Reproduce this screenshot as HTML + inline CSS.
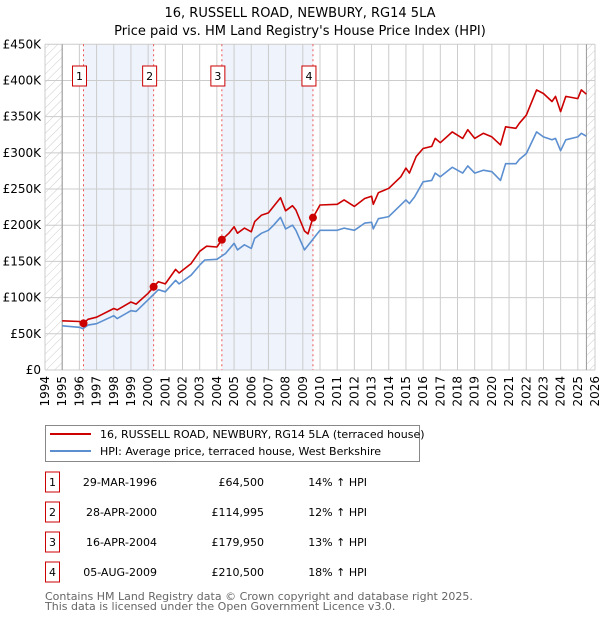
<!DOCTYPE html>
<html><head><meta charset="utf-8"><style>
body{margin:0;background:#fff;font-family:"Liberation Sans","DejaVu Sans",sans-serif}
svg{display:block}
</style></head><body>
<svg id="chart" width="600" height="620" xmlns="http://www.w3.org/2000/svg" font-family="DejaVu Sans, Liberation Sans, sans-serif">
<defs><pattern id="hatch" width="6" height="6" patternUnits="userSpaceOnUse" patternTransform="rotate(45)"><line x1="0" y1="0" x2="0" y2="6" stroke="#ccc" stroke-width="1"/></pattern></defs>
<text x="300" y="17" text-anchor="middle" font-size="13">16, RUSSELL ROAD, NEWBURY, RG14 5LA</text>
<text x="300" y="35" text-anchor="middle" font-size="13">Price paid vs. HM Land Registry's House Price Index (HPI)</text>
<g id="plot"></g>
<g>
<rect x="45.5" y="425.5" width="374" height="36" fill="#fff" stroke="#888"/>
<line x1="50" y1="434" x2="91" y2="434" stroke="#cc0000" stroke-width="2"/>
<text x="100" y="438" font-size="11">16, RUSSELL ROAD, NEWBURY, RG14 5LA (terraced house)</text>
<line x1="50" y1="451" x2="91" y2="451" stroke="#5b8fd0" stroke-width="2"/>
<text x="100" y="455" font-size="11">HPI: Average price, terraced house, West Berkshire</text>
</g>
<g id="table" font-size="11"></g>
<text x="45" y="600" font-size="11" fill="#666">Contains HM Land Registry data © Crown copyright and database right 2025.</text>
<text x="45" y="610" font-size="11" fill="#666">This data is licensed under the Open Government Licence v3.0.</text>
</svg>
<script>
const hpiYears=[1995,1996,1996.2,1996.5,1997,1998,1998.2,1999,1999.3,2000,2000.6,2001,2001.6,2001.8,2002.5,2003,2003.3,2004,2004.5,2005,2005.2,2005.6,2006,2006.2,2006.6,2007,2007.3,2007.7,2008,2008.4,2008.6,2009.1,2010,2011,2011.4,2012,2012.6,2013,2013.1,2013.4,2014,2015,2015.2,2015.5,2016,2016.5,2016.7,2017,2017.7,2018.3,2018.6,2019,2019.5,2020,2020.5,2020.8,2021.4,2021.6,2022,2022.6,2023,2023.5,2023.7,2024,2024.3,2025,2025.2,2025.5];
const hpiValues=[61,59,57,62,64,75,71,82,81,97,111,108,124,119,131,145,152,153,161,175,166,173,168,182,189,193,200,211,195,200,193,166,193,193,196,193,203,204,195,209,212,235,230,239,260,262,272,267,280,272,282,272,276,274,262,285,285,291,299,329,322,318,320,303,318,322,327,323];
const priceYears=[1995,1996,1996.24,1996.5,1997,1998,1998.2,1999,1999.3,2000,2000.32,2000.6,2001,2001.6,2001.8,2002.5,2003,2003.4,2004,2004.29,2004.7,2005,2005.2,2005.6,2006,2006.2,2006.6,2007,2007.3,2007.7,2008,2008.4,2008.6,2009.1,2009.3,2009.59,2010,2011,2011.4,2012,2012.6,2013,2013.1,2013.4,2014,2014.7,2015,2015.2,2015.6,2016,2016.5,2016.7,2017,2017.7,2018.3,2018.6,2019,2019.5,2020,2020.5,2020.8,2021.4,2021.6,2022,2022.6,2023,2023.5,2023.7,2024,2024.3,2025,2025.2,2025.5];
const priceValues=[68,67,64.5,70,73,85,83,94,91,106,115,122,119,139,134,147,164,171,170,180,189,198,189,196,191,205,214,217,226,238,220,227,221,192,188,210.5,228,229,235,226,237,240,229,245,251,267,279,272,295,306,309,320,314,329,320,332,320,327,322,311,336,334,341,352,387,382,371,378,357,378,375,387,381];
const saleYears=[1996.24,2000.32,2004.29,2009.59];
const saleValues=[64.5,114.995,179.95,210.5];
const saleDates=["29-MAR-1996","28-APR-2000","16-APR-2004","05-AUG-2009"];
const salePrices=["£64,500","£114,995","£179,950","£210,500"];
const saleHpi=["14% ↑ HPI","12% ↑ HPI","13% ↑ HPI","18% ↑ HPI"];
const yTicks=[0,50,100,150,200,250,300,350,400,450];
const yTickLabels=["£0","£50K","£100K","£150K","£200K","£250K","£300K","£350K","£400K","£450K"];
const xTicks=[1994,1995,1996,1997,1998,1999,2000,2001,2002,2003,2004,2005,2006,2007,2008,2009,2010,2011,2012,2013,2014,2015,2016,2017,2018,2019,2020,2021,2022,2023,2024,2025,2026];

const NS="http://www.w3.org/2000/svg";
const X0=45,X1=595,Y0=370,Y1=44.3;
const xs=y=>X0+(y-1994)/(2026-1994)*(X1-X0);
const ys=v=>Y0-(v/450)*(Y0-Y1);
const plot=document.getElementById('plot');
function mk(tag,attrs,parent){const e=document.createElementNS(NS,tag);for(const k in attrs)e.setAttribute(k,attrs[k]);(parent||plot).appendChild(e);return e;}

// shaded regions
for(let i=0;i<saleYears.length;i+=2){
  const r=mk('rect',{x:xs(saleYears[i]),y:Y1,width:xs(saleYears[i+1])-xs(saleYears[i]),height:Y0-Y1,fill:'#eef3fc'});
  
  
}
// hatch
const h1=mk('rect',{x:X0,y:Y1,width:xs(1995)-X0,height:Y0-Y1,fill:'url(#hatch)'});


const h2=mk('rect',{x:xs(2025.5),y:Y1,width:X1-xs(2025.5),height:Y0-Y1,fill:'url(#hatch)'});


// grid
yTicks.forEach((t,i)=>{
  const g=mk('line',{x1:X0,x2:X1,y1:ys(t),y2:ys(t),stroke:'#ccc'});
  
  
  const l=mk('text',{x:X0-4,y:ys(t)+4,'text-anchor':'end','font-size':12});
  l.textContent=yTickLabels[i];
  
  
});
xTicks.forEach(t=>{
  const g=mk('line',{x1:xs(t),x2:xs(t),y1:Y1,y2:Y0,stroke:'#ccc'});
  
  
  const l=mk('text',{x:0,y:0,'text-anchor':'end','font-size':12,transform:`translate(${xs(t)+4},${Y0+6}) rotate(-90)`});
  l.textContent=t;
  
  
});
mk('line',{x1:xs(1995),x2:xs(1995),y1:Y1,y2:Y0,stroke:'#999'});
mk('line',{x1:xs(2025.5),x2:xs(2025.5),y1:Y1,y2:Y0,stroke:'#999'});
// sale lines & boxes
saleYears.forEach((s,i)=>{
  const l=mk('line',{x1:xs(s),x2:xs(s),y1:Y1,y2:Y0,stroke:'#e55','stroke-dasharray':'2,3'});
  
  
  const bx=xs(s)-4;
  const r=mk('rect',{x:bx-7,y:66,width:14,height:20,fill:'#fff',stroke:'#cc0000'});
  
  
  const t=mk('text',{x:bx,y:80,'text-anchor':'middle','font-size':11});
  t.textContent=i+1;
});
// lines
function path(xa,va,color,name){
  const d=xa.map((x,i)=>(i?'L':'M')+xs(x).toFixed(1)+','+ys(va[i]).toFixed(1)).join('');
  const p=mk('path',{d:d,fill:'none',stroke:color,'stroke-width':1.6,'stroke-linejoin':'round'});
  
  
}
path(hpiYears,hpiValues,'#5b8fd0','hpi-line');
path(priceYears,priceValues,'#cc0000','price-paid-line');
saleYears.forEach((s,i)=>{
  const c=mk('circle',{cx:xs(s),cy:ys(saleValues[i]),r:4,fill:'#cc0000'});
  
  
});
// table
const tb=document.getElementById('table');
saleDates.forEach((d,i)=>{
  const cy=482+i*30;
  const r=mk('rect',{x:45.5,y:cy-10,width:14,height:20,fill:'#fff',stroke:'#cc0000'},tb);
  
  
  const n=mk('text',{x:52.5,y:cy+4,'text-anchor':'middle'},tb);n.textContent=i+1;
  const t1=mk('text',{x:157,y:cy+4,'text-anchor':'end'},tb);t1.textContent=d;
  
  
  const t2=mk('text',{x:264,y:cy+4,'text-anchor':'end'},tb);t2.textContent=salePrices[i];
  
  
  const t3=mk('text',{x:367,y:cy+4,'text-anchor':'end'},tb);t3.textContent=saleHpi[i];
  
  
});
</script>
</body></html>
